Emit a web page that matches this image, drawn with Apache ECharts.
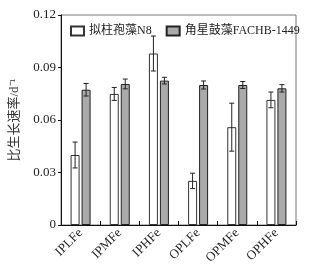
<!DOCTYPE html>
<html><head><meta charset="utf-8">
<script src="https://cdn.jsdelivr.net/npm/echarts@6/dist/echarts.min.js"></script>
<style>html,body{margin:0;padding:0;background:#fff}#c{width:315px;height:270px}</style>
</head><body><div id="c"></div>
<script>
const categories = ['IPLFe','IPMFe','IPHFe','OPLFe','OPMFe','OPHFe'];
const seriesNames = ['拟柱孢藻N8','角星鼓藻FACHB-1449'];
const n8Values = [0.040, 0.0749, 0.098, 0.0252, 0.0559, 0.0715];
const n8Errors = [0.0074, 0.0037, 0.0100, 0.0044, 0.0137, 0.0045];
const fachbValues = [0.0773, 0.0806, 0.0825, 0.0800, 0.0800, 0.0781];
const fachbErrors = [0.0036, 0.0028, 0.0019, 0.0023, 0.0020, 0.0021];
const yTicks = [0, 0.03, 0.06, 0.09, 0.12];

const FONT = '"Liberation Serif","Times New Roman","Noto Sans CJK SC",serif';
const BAR_W = 9, GAP = 2;
const chart = echarts.init(document.getElementById('c'), null, {renderer:'canvas'});

function errSeries(vals, errs, offset){
  return {
    type:'custom', silent:true, z:5,
    data: vals.map((v,i)=>[i, v, errs[i]]),
    renderItem(params, api){
      const i = api.value(0), v = api.value(1), e = api.value(2);
      const p = api.coord([i, v]);
      const x = p[0] + offset;
      const yt = api.coord([i, v + e])[1];
      const yb = api.coord([i, v - e])[1];
      const s = {stroke:'#222', lineWidth:1};
      return {type:'group', children:[
        {type:'line', shape:{x1:x,y1:yt,x2:x,y2:yb}, style:s},
        {type:'line', shape:{x1:x-2.5,y1:yt,x2:x+2.5,y2:yt}, style:s},
        {type:'line', shape:{x1:x-2.5,y1:yb,x2:x+2.5,y2:yb}, style:s}
      ]};
    }
  };
}

chart.setOption({
  animation:false,
  textStyle:{fontFamily:FONT},
  grid:{left:61, right:19, top:15, bottom:45, show:true, borderColor:'#777', borderWidth:1},
  legend:{
    left:65, top:20, itemWidth:13, itemHeight:9, itemGap:14, icon:'rect',
    textStyle:{fontFamily:FONT, fontSize:12, color:'#222'},
    data: seriesNames
  },
  xAxis:{
    type:'category', data:categories,
    axisLine:{lineStyle:{color:'#111', width:1}},
    axisTick:{show:true, inside:true, length:4, lineStyle:{color:'#111'}},
    axisLabel:{rotate:45, fontSize:13, color:'#222', fontFamily:FONT, margin:6},
    splitLine:{show:false}
  },
  yAxis:{
    type:'value', min:0, max:0.12, interval:0.03,
    name:'比生长速率/d⁻¹', nameLocation:'middle', nameRotate:90, nameGap:40,
    nameTextStyle:{fontSize:13, color:'#333', fontFamily:FONT},
    axisLine:{show:true, lineStyle:{color:'#111', width:1}},
    axisTick:{show:true, inside:false, length:3, lineStyle:{color:'#111'}},
    axisLabel:{fontSize:13, color:'#222', fontFamily:FONT, margin:5,
      formatter:v=>{const t=yTicks.find(t=>Math.abs(t-v)<1e-9); return t===0?'0':String(t);}},
    splitLine:{show:false}
  },
  series:[
    {name:seriesNames[0], type:'bar', data:n8Values, barWidth:BAR_W, barGap:(GAP/BAR_W*100)+'%',
      itemStyle:{color:'#ffffff', borderColor:'#333', borderWidth:1}},
    {name:seriesNames[1], type:'bar', data:fachbValues, barWidth:BAR_W,
      itemStyle:{color:'#aaaaaa', borderColor:'#222', borderWidth:1}},
    errSeries(n8Values, n8Errors, -(BAR_W+GAP)/2),
    errSeries(fachbValues, fachbErrors, (BAR_W+GAP)/2)
  ]
});
</script></body></html>
